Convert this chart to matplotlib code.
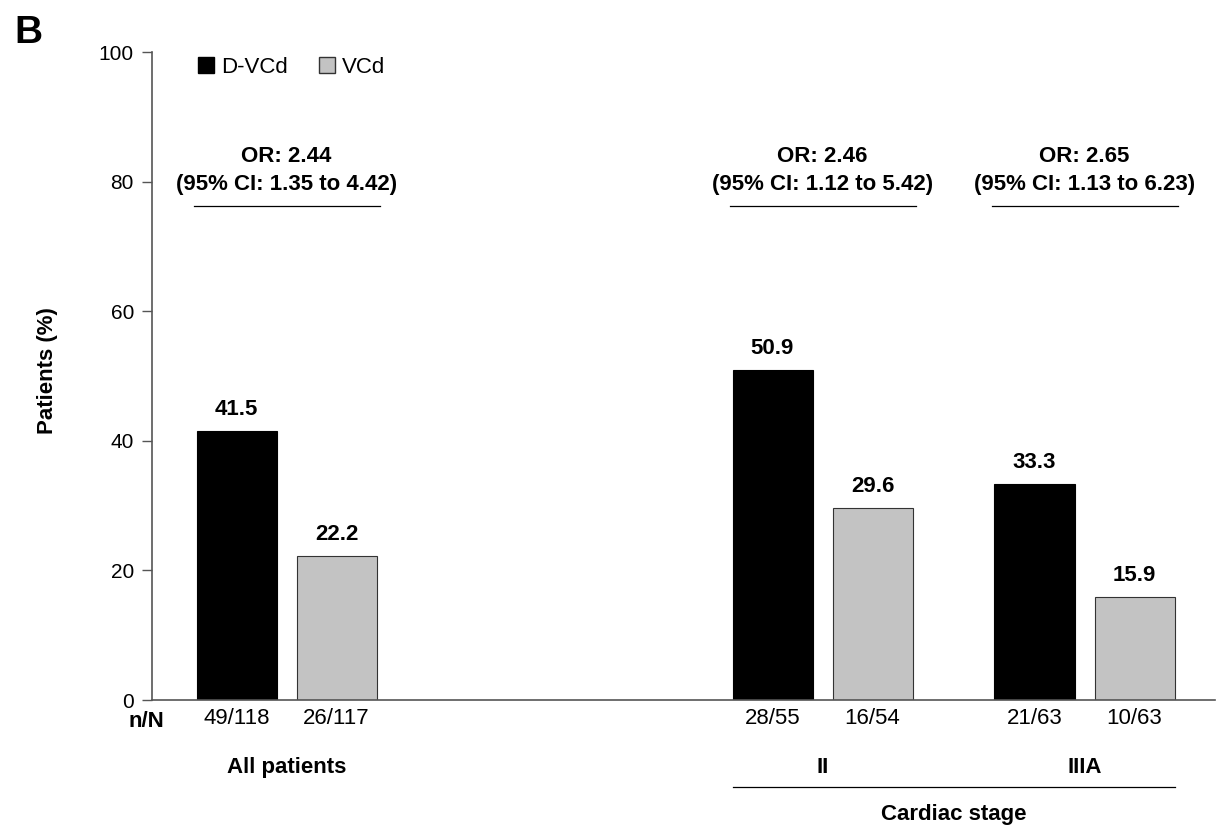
import matplotlib.pyplot as plt
from matplotlib.patches import Patch

plt.rcParams['font.family'] = ['Liberation Sans', 'DejaVu Sans']

# data
groups = ["All patients", "II", "IIIA"]
dvcd = [41.5, 50.9, 33.3]
vcd = [22.2, 29.6, 15.9]
dvcd_nN = ["49/118", "28/55", "21/63"]
vcd_nN = ["26/117", "16/54", "10/63"]
odds = ["OR: 2.44", "OR: 2.46", "OR: 2.65"]
ci = ["(95% CI: 1.35 to 4.42)", "(95% CI: 1.12 to 5.42)", "(95% CI: 1.13 to 6.23)"]

group_x = [1.345, 6.705, 9.325]
off = 0.5
w = 0.8
fs = 16
spine_col = "#555555"

fig = plt.figure(figsize=(12.18, 8.26), dpi=100)
ax = fig.add_axes([152 / 1218, 126 / 826, 1063 / 1218, 648 / 826])

xb = [g - off for g in group_x]
xg = [g + off for g in group_x]
ax.bar(xb, dvcd, width=w, color="black", edgecolor="black", linewidth=0.8)
ax.bar(xg, vcd, width=w, color="#c3c3c3", edgecolor="#333333", linewidth=0.8)

for x, v in zip(xb + xg, dvcd + vcd):
    ax.annotate(f"{v:.1f}", (x, v), xytext=(0, 8), textcoords="offset points",
                ha="center", va="bottom", fontsize=fs, fontweight="bold")

# OR annotations
for g, o, c in zip(group_x, odds, ci):
    ax.text(g, 83.9, o, ha="center", va="center", fontsize=fs, fontweight="bold")
    ax.text(g, 79.5, c, ha="center", va="center", fontsize=fs, fontweight="bold")
    ax.plot([g - off - w / 2 - 0.03, g + off + w / 2 + 0.03], [76.3, 76.3],
            color="black", linewidth=0.9)

ax.set_xlim(0, 10.63)
ax.set_ylim(0, 100)
ax.set_yticks([0, 20, 40, 60, 80, 100])
ax.tick_params(axis="y", labelsize=15, length=7, width=1, color=spine_col, pad=6)
ax.set_xticks(xb + xg)
ax.set_xticklabels(dvcd_nN + vcd_nN, fontsize=fs)
ax.tick_params(axis="x", length=0, pad=6)
for s in ["top", "right"]:
    ax.spines[s].set_visible(False)
for s in ["left", "bottom"]:
    ax.spines[s].set_color(spine_col)
    ax.spines[s].set_linewidth(1.2)

fig.text(47 / 1218, 0.551, "Patients (%)", rotation=90, ha="center", va="center",
         fontsize=fs, fontweight="bold")

# n/N row label
ax.text(-0.06, -2.9, "n/N", ha="center", va="center_baseline", fontsize=fs,
        fontweight="bold", clip_on=False)

# group labels
for g, lab in zip(group_x, groups):
    ax.text(g, -10.4, lab, ha="center", va="center", fontsize=fs, fontweight="bold", clip_on=False)
ax.plot([group_x[1] - off - w / 2, group_x[2] + off + w / 2], [-13.4, -13.4],
        color="black", linewidth=0.9, clip_on=False)
ax.text((group_x[1] + group_x[2]) / 2, -17.7, "Cardiac stage", ha="center", va="center",
        fontsize=fs, fontweight="bold", clip_on=False)

handles = [Patch(facecolor="black", edgecolor="black"),
           Patch(facecolor="#c3c3c3", edgecolor="#333333")]
ax.legend(handles, ["D-VCd", "VCd"], loc="center left", bbox_to_anchor=(0.024, 0.976),
          ncol=2, frameon=False, fontsize=fs, handlelength=0.75, handleheight=0.75,
          handletextpad=0.3, columnspacing=1.4)

fig.text(0.012, 0.982, "B", fontsize=28, fontweight="bold", ha="left", va="top")

fig.savefig("out.png", dpi=100)
